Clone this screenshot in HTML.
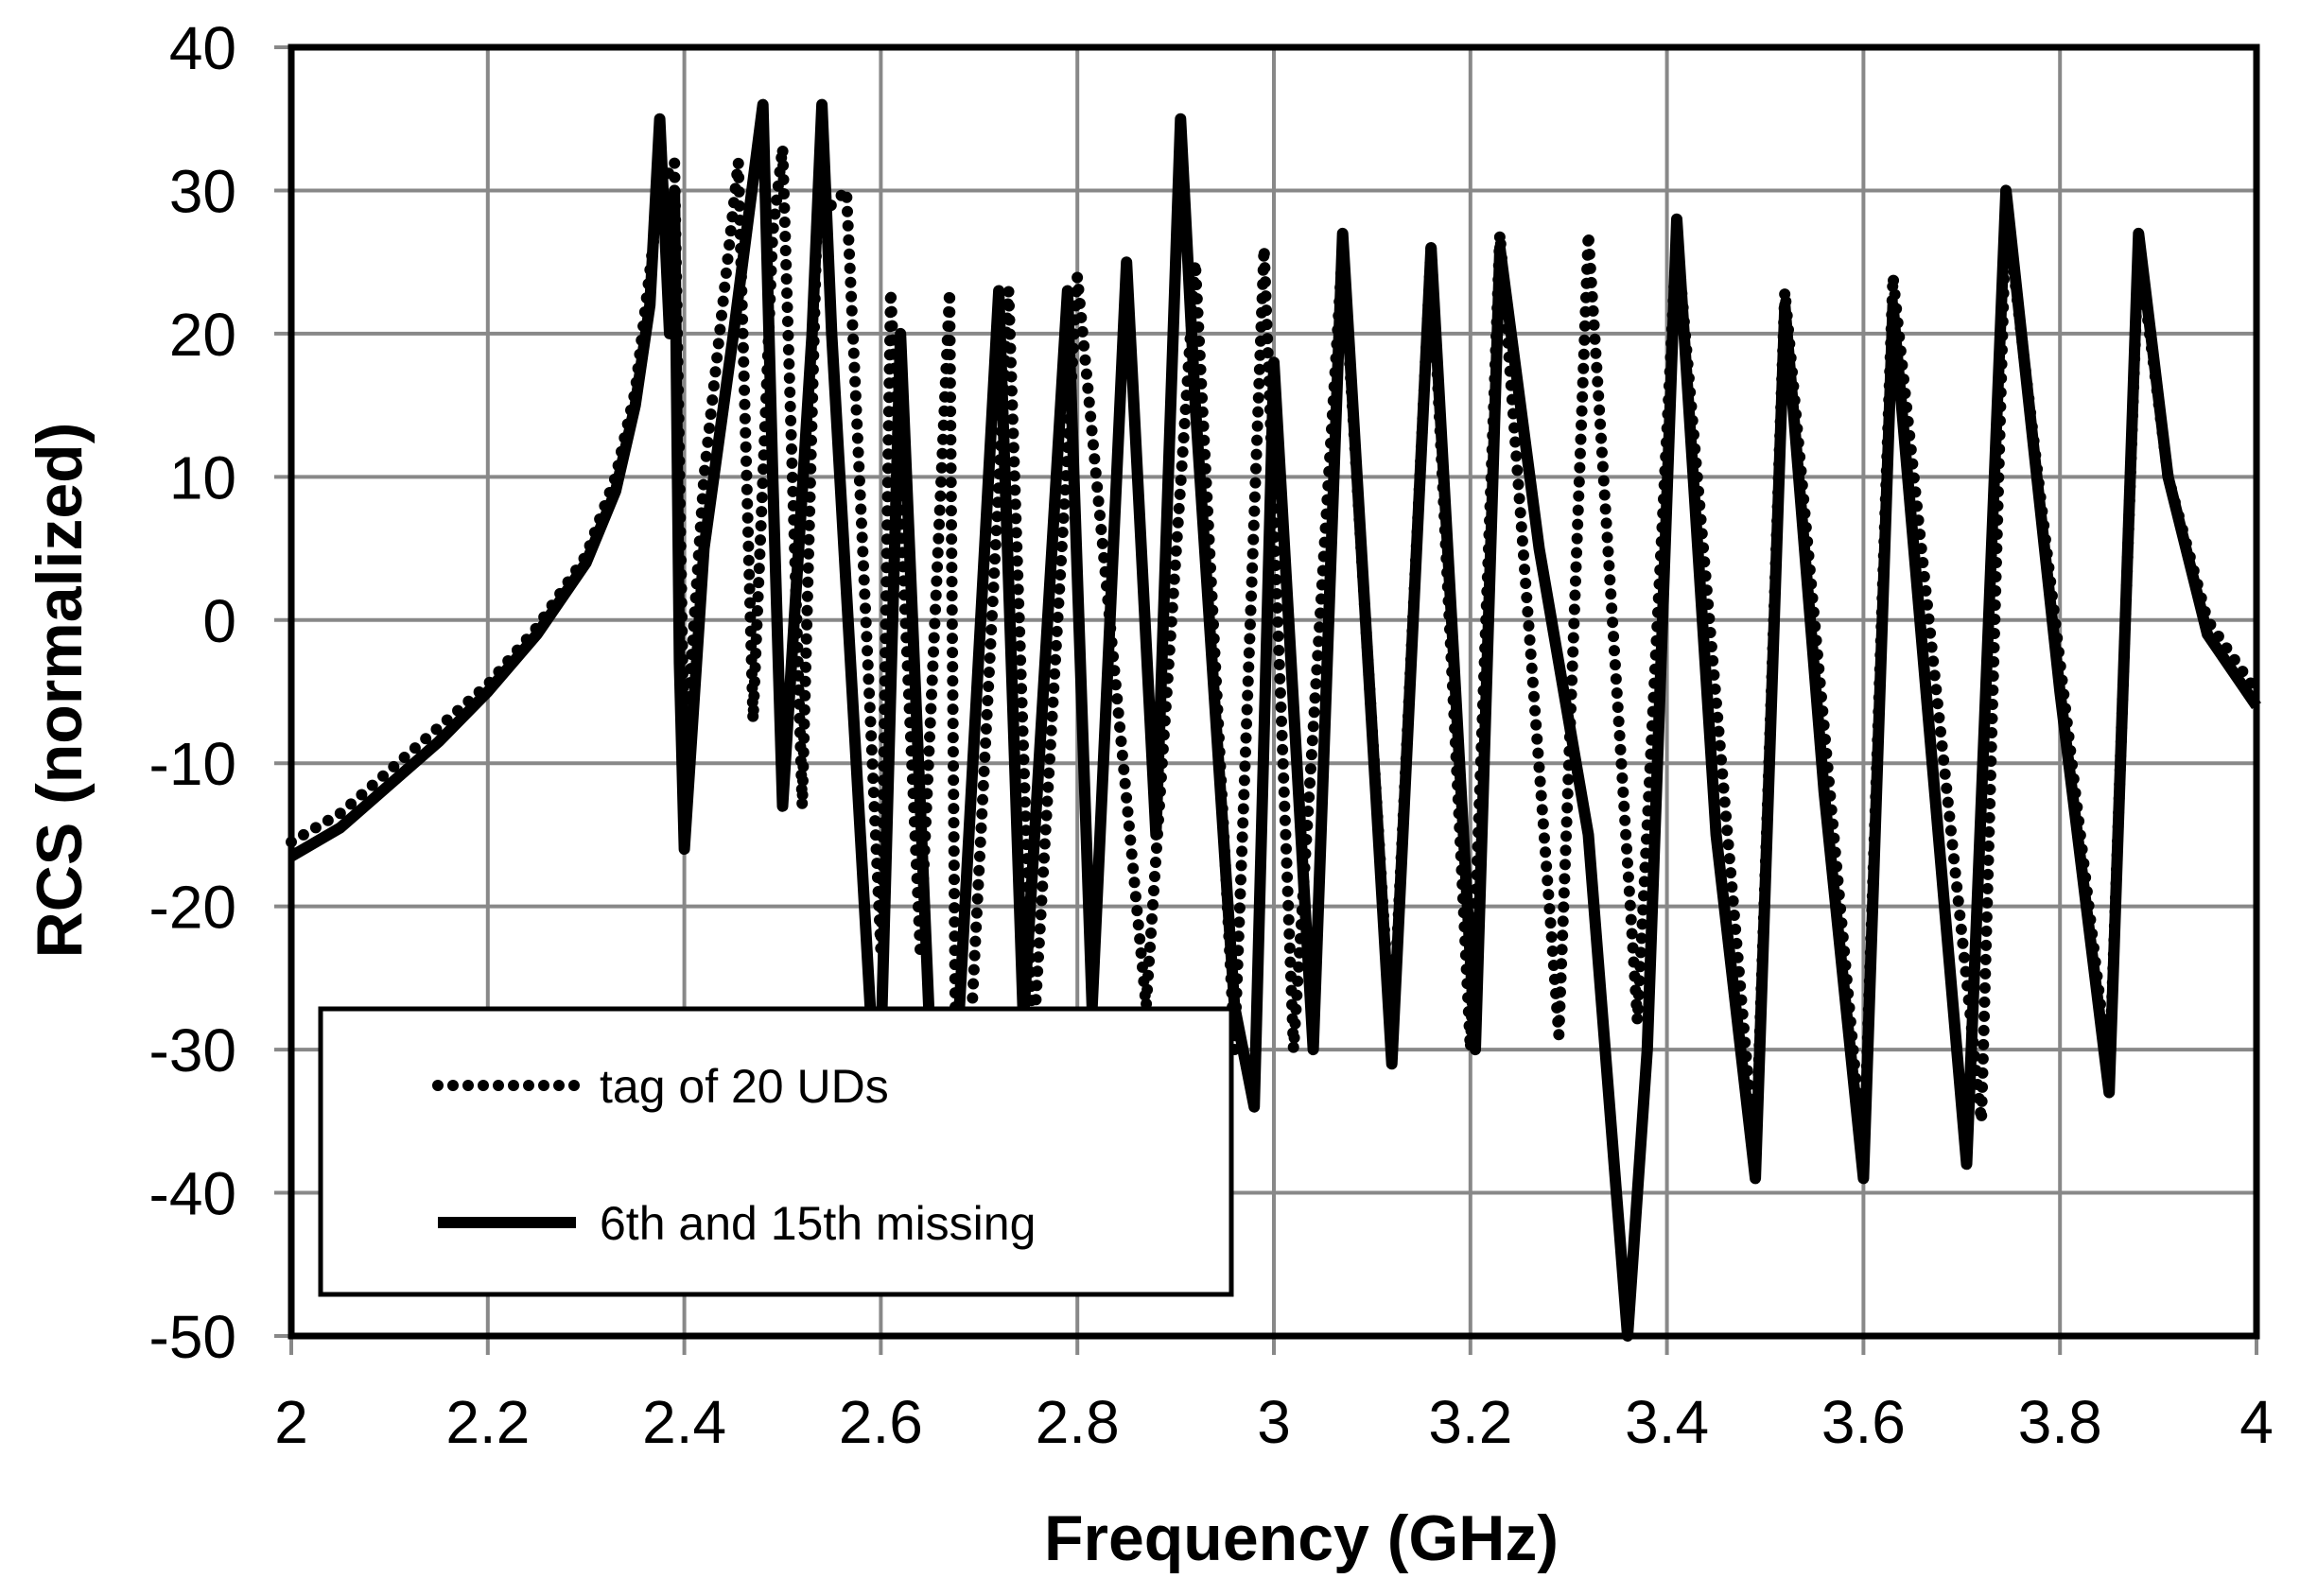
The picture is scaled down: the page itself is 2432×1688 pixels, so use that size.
<!DOCTYPE html>
<html><head><style>body{margin:0;background:#fff}svg{display:block}</style></head><body>
<svg id="s" width="2432" height="1688" xmlns="http://www.w3.org/2000/svg" font-family="Liberation Sans, sans-serif">
<rect width="2432" height="1688" fill="#fff"/>
<g id="grid" stroke="#888" stroke-width="4"></g>
<g id="lab" font-size="64" fill="#000"></g>
<path id="dot" fill="none" stroke="#000" stroke-width="12" stroke-linecap="round" stroke-dasharray="0 15"/>
<path id="sol" fill="none" stroke="#000" stroke-width="12" stroke-linejoin="round"/>
<rect x="308" y="50" width="2078" height="1363" fill="none" stroke="#000" stroke-width="7"/>
<rect x="339" y="1067" width="963" height="302" fill="#fff" stroke="#000" stroke-width="5"/>
<line x1="463" y1="1148" x2="609" y2="1148" stroke="#000" stroke-width="12" stroke-linecap="round" stroke-dasharray="0 16"/>
<line x1="463" y1="1293" x2="609" y2="1293" stroke="#000" stroke-width="12"/>
<text x="634" y="1166" font-size="50">tag of 20 UDs</text>
<text x="634" y="1311" font-size="50">6th and 15th missing</text>
<text x="1376" y="1650" font-size="68" font-weight="bold" text-anchor="middle">Frequency (GHz)</text>
<text transform="translate(86,730) rotate(-90)" font-size="68" font-weight="bold" text-anchor="middle">RCS (normalized)</text>
</svg>
<script>
const L=308,R=2386,T=50,B=1413;
const X=f=>L+(f-2)/2*(R-L), Y=v=>T+(40-v)/90*(B-T);
let g='',lab='';
for(let i=0;i<=10;i++){const x=X(2+i*0.2);g+=`<line x1="${x}" y1="${T}" x2="${x}" y2="${B+20}"/>`;
lab+=`<text x="${x}" y="${B+113}" text-anchor="middle">${+(2+i*0.2).toFixed(1)}</text>`;}
for(let i=0;i<=9;i++){const v=40-i*10,y=Y(v);g+=`<line x1="${L-18}" y1="${y}" x2="${R}" y2="${y}"/>`;
lab+=`<text x="250" y="${y+23}" text-anchor="end">${v}</text>`;}
document.getElementById('grid').innerHTML=g;document.getElementById('lab').innerHTML=lab;
const sol=[[2,-16.5],[2.05,-14.5],[2.1,-11.5],[2.15,-8.5],[2.2,-5],[2.25,-1],[2.3,4],[2.33,9],[2.35,15],[2.365,22],[2.375,35],[2.385,20],[2.39,30],[2.395,-3],[2.4,-16],[2.42,5],[2.45,20],[2.48,36],[2.49,10],[2.5,-13],[2.53,20],[2.54,36],[2.55,20],[2.59,-28],[2.6,-30],[2.62,20],[2.65,-29],[2.68,-27],[2.72,23],[2.745,-28],[2.79,23],[2.815,-27],[2.85,25],[2.88,-15],[2.905,35],[2.92,15],[2.96,-27],[2.98,-34],[3.0,18],[3.04,-30],[3.07,27],[3.12,-31],[3.16,26],[3.205,-30],[3.23,26],[3.27,5],[3.32,-15],[3.36,-50],[3.38,-30],[3.41,28],[3.45,-15],[3.49,-39],[3.52,22],[3.56,-12],[3.6,-39],[3.63,22],[3.67,-10],[3.705,-38],[3.745,30],[3.8,-5],[3.85,-33],[3.88,27],[3.91,10],[3.95,-1],[4.0,-6]];
const dot=[[2,-15.5],[2.05,-13.5],[2.1,-10.5],[2.15,-7.5],[2.2,-4.5],[2.25,-0.5],[2.3,4.5],[2.33,10],[2.35,16],[2.375,30],[2.39,32],[2.4,-10],[2.42,10],[2.455,32],[2.47,-7],[2.49,27],[2.5,33],[2.52,-13],[2.535,28],[2.565,30],[2.6,-23],[2.61,23],[2.64,-23],[2.67,23],[2.678,-47],[2.73,23],[2.755,-30],[2.8,24],[2.87,-27],[2.92,25],[2.96,-30],[2.99,26],[3.02,-30],[3.07,26],[3.12,-30],[3.16,26],[3.2,-30],[3.23,27],[3.29,-29],[3.32,27],[3.37,-28],[3.41,27],[3.49,-38],[3.52,23],[3.6,-38],[3.63,24],[3.72,-35],[3.745,29],[3.85,-32],[3.88,26],[3.91,10],[3.95,0],[4.0,-5]];
const p=a=>'M'+a.map(q=>X(q[0]).toFixed(1)+','+Y(q[1]).toFixed(1)).join('L');
document.getElementById('sol').setAttribute('d',p(sol));document.getElementById('dot').setAttribute('d',p(dot));
</script>
</body></html>
